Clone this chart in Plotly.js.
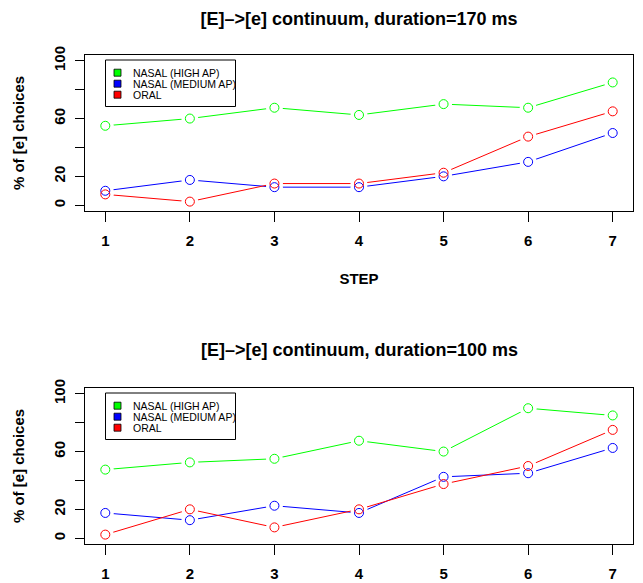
<!DOCTYPE html>
<html>
<head>
<meta charset="utf-8">
<script src="https://cdn.plot.ly/plotly-3.0.1.min.js"></script>
<style>html,body{margin:0;padding:0;background:#fff;}#chart{width:643px;height:583px;}</style>
</head>
<body>
<div id="chart"></div>
<script>
// ---- data ----
const steps = [1, 2, 3, 4, 5, 6, 7];
const seriesNames = ['NASAL (HIGH AP)', 'NASAL (MEDIUM AP)', 'ORAL'];
const panelTitles = ['[E]–>[e] continuum, duration=170 ms', '[E]–>[e] continuum, duration=100 ms'];
const xTitle = 'STEP';
const yTitle = '% of [e] choices';
const yTickVals = [0, 20, 40, 60, 80, 100];
const yTickText = ['0', '20', '', '60', '', '100'];

const high170   = [55, 60, 67.5, 62.5, 70, 67.5, 85];
const medium170 = [10, 17.5, 12.5, 12.5, 20, 30, 50];
const oral170   = [7.5, 2.5, 15, 15, 22.5, 47.5, 65];

const high100   = [47.5, 52.5, 55, 67.5, 60, 90, 85];
const medium100 = [17.5, 12.5, 22.5, 17.5, 42.5, 45, 62.5];
const oral100   = [2.5, 20, 7.5, 20, 37.5, 50, 75];

// ---- styling ----
const colors = ['#00ff00', '#0000ff', '#ff0000'];
const W = 643, H = 583;
const M = {l: 85, r: 10, t: 55, b: 39};
const PW = W - M.l - M.r, PH = H - M.t - M.b;
const px2x = p => (p - M.l) / PW;
const px2y = p => 1 - (p - M.t) / PH;
const FONT = 'Liberation Sans, Arial, Helvetica, sans-serif';

const panels = [
  {xa: 'x', ya: 'y', data: [high170, medium170, oral170], top: 55},
  {xa: 'x2', ya: 'y2', data: [high100, medium100, oral100], top: 388}
];

const traces = [];
panels.forEach(p => {
  p.data.forEach((vals, i) => traces.push({
    x: steps, y: vals, xaxis: p.xa, yaxis: p.ya, type: 'scatter', mode: 'lines',
    line: {color: colors[i], width: 1}, hoverinfo: 'skip', name: seriesNames[i]
  }));
  p.data.forEach((vals, i) => traces.push({
    x: steps, y: vals, xaxis: p.xa, yaxis: p.ya, type: 'scatter', mode: 'markers',
    marker: {symbol: 'circle', size: 17, color: '#ffffff', line: {width: 0}}, hoverinfo: 'skip', name: seriesNames[i]
  }));
  p.data.forEach((vals, i) => traces.push({
    x: steps, y: vals, xaxis: p.xa, yaxis: p.ya, type: 'scatter', mode: 'markers',
    marker: {symbol: 'circle-open', size: 9, color: colors[i], line: {width: 1, color: colors[i]}}, name: seriesNames[i]
  }));
});

const shapes = [];
const annotations = [];
panels.forEach((p, k) => {
  const off = p.top - 55;
  shapes.push({type: 'rect', xref: 'paper', yref: 'paper', layer: 'above',
    x0: px2x(105.5), x1: px2x(235.5), y0: px2y(60 + off), y1: px2y(106.5 + off),
    line: {color: '#000', width: 1}, fillcolor: '#ffffff'});
  seriesNames.forEach((nm, i) => {
    const cy = 72.7 + 11 * i + off;
    shapes.push({type: 'rect', xref: 'paper', yref: 'paper', layer: 'above',
      x0: px2x(114), x1: px2x(121), y0: px2y(cy - 3.5), y1: px2y(cy + 3.5),
      line: {color: '#000', width: 0.8}, fillcolor: colors[i]});
    annotations.push({xref: 'paper', yref: 'paper', x: px2x(130.5), y: px2y(cy),
      xanchor: 'left', yanchor: 'middle', showarrow: false, text: nm,
      font: {family: FONT, size: 10.5, color: '#000'}});
  });
});
annotations.push({xref: 'paper', yref: 'paper', x: 0.5, y: px2y(350), xanchor: 'center', yanchor: 'middle',
  showarrow: false, text: panelTitles[1], font: {family: FONT, size: 18, weight: 'bold', color: '#000'}});

function xAxis(anchor, withTitle) {
  const a = {
    domain: [0, 1], anchor: anchor, range: [0.76, 7.24], tickvals: steps, ticktext: steps.map(String),
    ticks: 'outside', ticklen: 10, tickwidth: 1, tickcolor: '#000',
    showline: true, mirror: true, linecolor: '#000', linewidth: 1,
    showgrid: false, zeroline: false, fixedrange: true,
    tickfont: {family: FONT, size: 15, weight: 'bold', color: '#000'}, ticklabelstandoff: 6
  };
  if (withTitle) a.title = {text: xTitle, font: {family: FONT, size: 15, weight: 'bold', color: '#000'}, standoff: 25};
  return a;
}
function yAxis(anchor, domain) {
  return {
    domain: domain, anchor: anchor, range: [-4, 104], tickvals: yTickVals, ticktext: yTickText,
    ticks: 'outside', ticklen: 9, tickwidth: 1, tickcolor: '#000', tickangle: -90,
    showline: true, mirror: true, linecolor: '#000', linewidth: 1,
    showgrid: false, zeroline: false, fixedrange: true,
    tickfont: {family: FONT, size: 15, weight: 'bold', color: '#000'}, ticklabelstandoff: 4,
    title: {text: yTitle, font: {family: FONT, size: 15, weight: 'bold', color: '#000'}, standoff: 22}
  };
}

const layout = {
  width: W, height: H, margin: M, showlegend: false,
  paper_bgcolor: '#fff', plot_bgcolor: '#fff',
  font: {family: FONT, color: '#000'},
  title: {text: panelTitles[0], font: {family: FONT, size: 18, weight: 'bold', color: '#000'},
    x: 0.5, xref: 'paper', xanchor: 'center', y: 1 - 18.5 / H, yref: 'container', yanchor: 'middle'},
  xaxis: xAxis('y', true),
  yaxis: yAxis('x', [px2y(211), 1]),
  xaxis2: xAxis('y2', false),
  yaxis2: yAxis('x2', [0, px2y(388)]),
  shapes: shapes, annotations: annotations
};

Plotly.newPlot('chart', traces, layout, {staticPlot: true, displayModeBar: false});
</script>
</body>
</html>
